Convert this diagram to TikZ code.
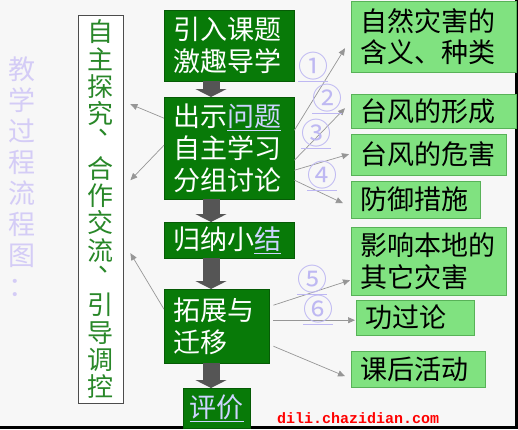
\documentclass[tikz,border=0pt]{standalone}
\usepackage{fontspec}
\newfontfamily\cjk{Noto Sans CJK SC}
\newfontfamily\webfont{Liberation Mono}
\usetikzlibrary{arrows.meta}
\usetikzlibrary{calc}
\definecolor{bggray}{RGB}{247,247,247}
\definecolor{darkgreen}{RGB}{8,122,8}
\definecolor{lightgreen}{RGB}{128,226,128}
\definecolor{edgegreen}{RGB}{88,178,88}
\definecolor{sidegreen}{RGB}{40,135,40}
\definecolor{lilac}{RGB}{212,204,246}
\definecolor{numblue}{RGB}{190,184,242}
\definecolor{linkblue}{RGB}{205,212,255}
\definecolor{connector}{RGB}{150,150,150}
\definecolor{blockgray}{RGB}{85,85,85}
\tikzset{
  darkbox/.style={draw=darkgreen!75!black, fill=darkgreen, text=white, anchor=north west,
    font=\cjk\fontsize{27}{32}\selectfont, align=left, inner xsep=9pt, inner ysep=0pt},
  topicbox/.style={draw=edgegreen, fill=lightgreen, text=black, anchor=north west,
    font=\cjk\fontsize{27}{31.5}\selectfont, align=left, inner xsep=9pt, inner ysep=0pt},
  blockarrow/.style={draw=blockgray, line width=17pt, -{Triangle[width=31pt,length=8pt]}},
  link/.style={draw=connector, line width=0.7pt, -{Triangle[length=7pt,width=6pt]}},
  numlabel/.style={text=numblue, font=\cjk\fontsize{30}{30}\selectfont, inner sep=0pt},
}
\newcommand{\linked}[1]{\textcolor{linkblue}{\underline{#1}}}
\newcommand{\vcomma}{\hspace*{-10pt}︑}

\begin{document}
\begin{tikzpicture}[x=1pt, y=-1pt]
  \useasboundingbox (0,0) rectangle (518,429);
  \fill[bggray] (0,0) rectangle (518,429);
  % frame
  \draw[black, line width=2.5pt] (0,427.7) -- (516.7,427.7) -- (516.7,0);
  % title
  \node[text=lilac, font=\cjk\fontsize{27}{31}\selectfont, align=center, anchor=north, inner sep=0pt]
    (title) at (22.5,57) {教\\学\\过\\程\\流\\程\\图\\：};
  % side box
  \node[draw=black!70, fill=white, text=sidegreen, font=\cjk\fontsize{26}{27.3}\selectfont,
    align=center, anchor=north west, inner sep=0pt, minimum width=45pt, minimum height=388pt]
    (explore) at (78,15) {自\\主\\探\\究\\\vcomma\\合\\作\\交\\流\\\vcomma\\引\\导\\调\\控};
  % main steps
  \node[darkbox, text width=112pt, minimum height=71pt] (intro) at (164,10) {引入课题\\激趣导学};
  \node[darkbox, text width=112pt, minimum height=102pt] (issue) at (164,97) {出示\linked{问题}\\自主学习\\分组讨论};
  \node[darkbox, text width=112pt, minimum height=36pt] (summary) at (164,222) {归纳小\linked{结}};
  \node[darkbox, text width=87pt, minimum height=74pt] (extend) at (164,289) {拓展与\\迁移};
  \node[darkbox, align=center, inner xsep=6pt, text width=55pt, minimum height=40pt] (assess) at (183,388) {\linked{评价}};
  % topics
  \node[topicbox, text width=147pt, minimum height=71pt] (natural) at (351,1) {自然灾害的\\含义、种类};
  \node[topicbox, text width=147pt, minimum height=34pt] (forming) at (351,94) {台风的形成};
  \node[topicbox, text width=137pt, minimum height=41pt] (damage) at (351,134) {台风的危害};
  \node[topicbox, text width=111pt, minimum height=37pt] (defense) at (351,181) {防御措施};
  \node[topicbox, text width=137pt, minimum height=68pt] (local) at (351,227) {影响本地的\\其它灾害};
  \node[topicbox, text width=100pt, minimum height=35pt] (merit) at (356,300) {功过论};
  \node[topicbox, text width=116pt, minimum height=36pt] (after) at (351,351) {课后活动};
  % flow arrows
  \coordinate (spine) at (211,0);
  \draw[blockarrow] (intro.south -| spine) -- (issue.north -| spine);
  \draw[blockarrow] (issue.south -| spine) -- (summary.north -| spine);
  \draw[blockarrow] (summary.south -| spine) -- (extend.north -| spine);
  \draw[blockarrow] (extend.south -| spine) -- (assess.north -| spine);
  % links to the side box
  \draw[link] ($(issue.west)+(0,-30)$) -- ($(explore.east)+(7,-105)$);
  \draw[link] ($(issue.west)+(0,-3)$) -- ($(explore.east)+(7,-29)$);
  \draw[link] ($(extend.west)+(0,-17)$) -- ($(explore.east)+(7,44)$);
  % links to the topics
  \draw[link] ($(issue.east)+(0,-18)$) -- ($(natural.west)+(-6,11.5)$);
  \draw[link] ($(issue.east)+(0,12)$) -- ($(forming.west)+(-6,-3)$);
  \draw[link] ($(issue.east)+(0,22)$) -- ($(damage.west)+(-2,-0.5)$);
  \draw[link] ($(issue.east)+(0,32)$) -- ($(defense.west)+(-8,3.5)$);
  \draw[link] ($(extend.east)+(4,-21)$) -- ($(local.west)+(-1,19)$);
  \draw[link] ($(extend.east)+(4,-6)$) -- ($(merit.west)+(-1,2.5)$);
  \draw[link] ($(extend.east)+(4,20)$) -- ($(after.west)+(-6,7)$);
  % numbers
  \node[numlabel] (n1) at (313,67) {\underline{①}};
  \node[numlabel] (n2) at (327,99) {\underline{②}};
  \node[numlabel] (n3) at (316,134) {\underline{③}};
  \node[numlabel] (n4) at (322,176) {\underline{④}};
  \node[numlabel] (n5) at (312,280) {\underline{⑤}};
  \node[numlabel] (n6) at (318,310) {\underline{⑥}};
  % site mark
  \node[text=red, font=\webfont\bfseries\fontsize{15}{15}\selectfont, anchor=base west, inner sep=0pt]
    (site) at (277,423.5) {dili.chazidian.com};
\end{tikzpicture}
\end{document}
